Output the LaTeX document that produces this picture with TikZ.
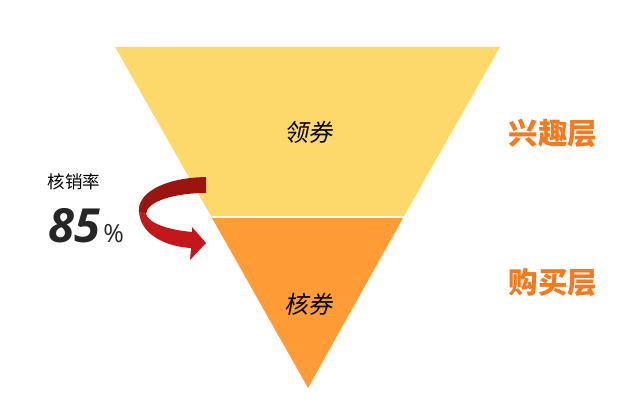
\documentclass[tikz,border=0pt]{standalone}
\usepackage{fontspec}
\newfontfamily\cjk{Noto Sans CJK SC}
\newfontfamily\cjkit[FakeSlant=0.2]{Noto Sans CJK SC}
\newfontfamily\numfont{Open Sans}
\definecolor{funnelyellow}{HTML}{FDD86B}
\definecolor{funnelorange}{HTML}{FF9C35}
\definecolor{layertext}{HTML}{F47A20}
\definecolor{arrowdark}{HTML}{9A1510}
\definecolor{arrowlight}{HTML}{C3171C}
\definecolor{numgray}{HTML}{262626}
\begin{document}
\begin{tikzpicture}[x=1pt,y=-1pt,
    stage/.style={font=\cjkit\fontsize{24}{24}\selectfont, text=black},
    layer/.style={font=\cjk\bfseries\fontsize{29.5}{30}\selectfont, text=layertext}]
    \useasboundingbox (0,0) rectangle (626,404);
    % funnel
    \fill[funnelyellow] (115,47) -- (500,47) -- (404,216) -- (211,216) -- cycle;
    \fill[funnelorange] (212,218) -- (403,218) -- (308,388) -- cycle;
    \node[stage] (lingquan) at (308,132) {领券};
    \node[stage] (hequan) at (308,304) {核券};
    \node[layer] (xingqu) at (553,133) {兴趣层};
    \node[layer] (goumai) at (553,282) {购买层};
    % curved arrow
    \fill[arrowdark] (206,177) .. controls (160,178) and (137,195) .. (139,212)
        -- (146,214) .. controls (147,201) and (175,193) .. (206,193) -- cycle;
    \fill[arrowlight] (139,212) .. controls (141,237) and (170,247) .. (191,248)
        -- (190,260) -- (206,243) -- (192,227) -- (192,232)
        .. controls (170,230) and (149,224) .. (146,214) -- cycle;
    \node[font=\cjk\fontsize{17.5}{18}\selectfont] (heixiao) at (74,182) {核销率};
    \node[font=\numfont\bfseries\itshape\fontsize{47}{47}\selectfont, text=numgray,
        anchor=base west, inner sep=0pt] (rate) at (48,242) {85};
    \node[font=\numfont\fontsize{25}{25}\selectfont, text=numgray,
        anchor=base west, inner sep=0pt] (pct) at ([xshift=3pt]rate.base east) {\%};
\end{tikzpicture}
\end{document}
